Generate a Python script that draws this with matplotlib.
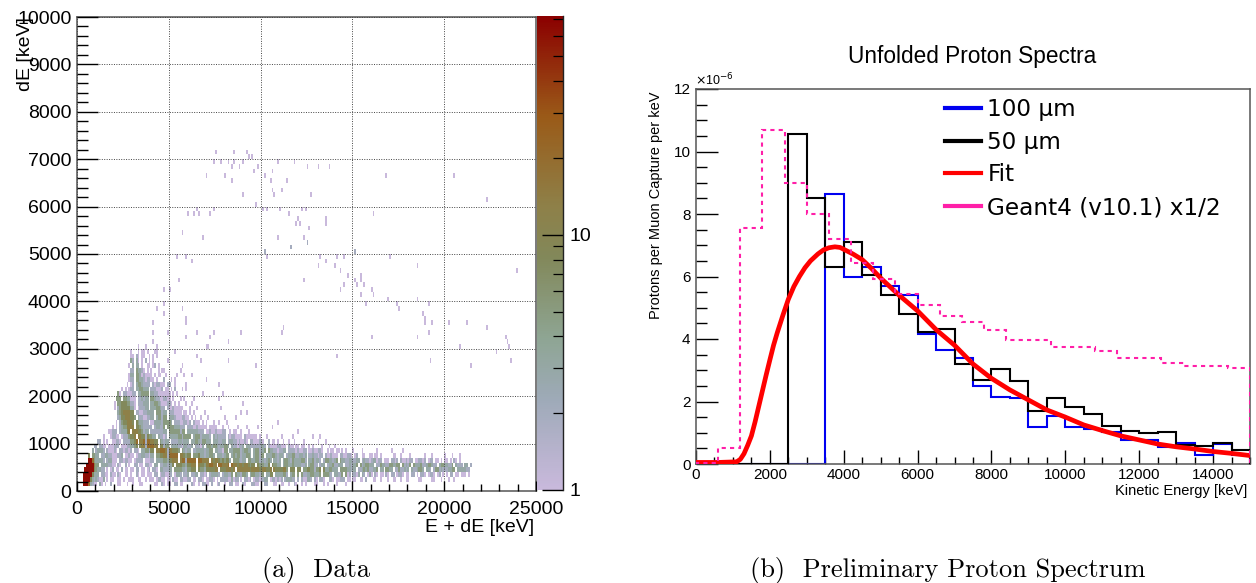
import numpy as np
import matplotlib
matplotlib.use('Agg')
import matplotlib.pyplot as plt
from matplotlib.colors import LinearSegmentedColormap, LogNorm
from matplotlib.lines import Line2D
from matplotlib.ticker import MultipleLocator, LogLocator, NullFormatter

plt.rcParams['font.family'] = ['Liberation Sans', 'DejaVu Sans']

# left panel: dense part of the histogram, read row by row
# (row low edge in keV, first x in keV, one character per 100 keV bin, blanks are only for reading)
dense_rows = [
    (100, 0, "...9997321 1.31.1..2. ..11...1.. 1...11.... ..11..21.1 1..22.11.. ..21..1.22 11.2..12.. 1..22.11.. 21...2211. 1.22...11. .11..1..21 ..1.1....1 1...1.1... .1....1..."),
    (200, 0, "...9999532 32113.1.11 ..11.1..11 1..11..1.1 11.12211.1 1.211.2211 22.11.221. 11221.1.22 22113122.1 .2212.1221 2233.12212 12.233322. 2.211332.2 1.221..221 .11222.11. 11..11.2.. .11..1...1 ..11..1..1 1.....11.. ...11...1. ..1..1...."),
    (300, 0, "...9999953 33.2211.21 1.21..11.1 ..21.11.11 1.22.12211 22.1332.22 3.2233.221 2.233332.2 33224.4332 443.344332 44.3355.33 33442.344. 4.42233443 334.44432. 33224.412. 2213.32.13 1.21.11.21 .22.1221.1 1.22.1.221 .1221.12.1 .1.22.11.1 11.1......"),
    (400, 0, "....999995 43322.1.12 .11.2.11.1 1.22.11.12 .221.33222 33.4444332 44555.5443 5555566.55 566656.666 6666566665 566556.655 55664.555. 55.4455442 445.533443 33.4444332 33.2234342 2334.33.44 33.2242232 3.3223443. 332.244232 223344.333 3322......"),
    (500, 0, ".....99996 44.3333221 1.21..2.1. .22.11.221 1.33.22332 335.555443 55666.6554 667766.776 667.766566 5665455.54 44335.5443 3.34433433 33223.3442 2.233.2334 22333.2232 334.423443 33.2243322 443344.423 24.4333422 344322.344 33224.3222 .33.2....."),
    (600, 0, "......9974 33332.2331 11.2212211 .12222.111 22.3333443 55666.6772 77777.7766 66.6566545 4553.44432 33.4433442 332343.332 3.34432433 33442.3342 332.244332 34.4332233 2233.23221 233122.111 .2212.2112 122.112212 .122.11.1. 11.1.21.1."),
    (700, 0, "......5.44 33.2233221 11223.1121 1.12233221 33.4455662 77777.6654 55.4445332 33443.3332 344.343442 33443.3442 44.3334432 332.233442 23323.2232 2122.21121 11.2211221 .12..11..1 1.11.1.... ..11..1... .1.......1 ...1...... 1...1...1."),
    (800, 0, "........3. 23332.2111 21.2212212 .221.33442 55.6677762 665554.432 33.2233332 3344.33221 44.3344442 34433.3442 334.433221 2233.22221 21122.1121 1221..1.11 .11.1.1... 1....1.... ...1...... .1.....1.."),
    (900, 800, ".22.2211.1 11222.1112 23345.5662 777766.552 44.3333221 33223.3221 3.34434432 33443.3221 223.332222 22332.2111 122111.211 .11.11..1. 1....1...1 ..1......."),
    (1000, 800, "...22.1.1. .11221.222 24457.6672 776655.432 33.2222332 333.334432 44333.3332 233.233221 21121.2211 1221..2.11 .1..1..1.. 1....1.... ...1...1.."),
    (1100, 800, "......1... 12211.1222 4556.66552 54433.3221 2.33333442 4444.34442 33332.3232 222.212211 11.2111111 .1...1.... ...1.....1 .......... 1...1....."),
    (1200, 1700, "11222.2333 56.6665542 33.2222222 33.4444442 44.3333332 22.1121121 1122..1.11 ..1...1... .......... .......... ...1......"),
    (1300, 1700, "..1.1.2344 6666.55432 2222.23322 4.44443332 22.2221121 1111.1111. ..1..1.... 1....1.... .1.......1"),
    (1400, 1700, "....1.2455 6665.54332 22.1133332 44443.2221 12212.2111 .1.1...1.. 1...1..... .......... .......... ..1......."),
    (1500, 1700, ".....23556 66554.3221 12233.3442 44.3332111 2211.1.1.. 1...1..... ...1.....1"),
    (1600, 1700, ".....34566 6655.22112 23333.4442 33.2221111 .11.1.1... ..1....... .......... ..1..1...."),
    (1700, 1700, "...1.24555 55331.1222 33.3334432 2.21121111 1...1...1. .......... .1........"),
    (1800, 1700, "...1.44555 44221.2223 33.3344321 11221.1.1. ..1..1.... .......... .......... ...1......"),
    (1900, 1700, "....444.44 33111.2232 33.4432211 2211.1...1 .1....1... .......... 1........."),
    (2000, 1700, ".....41.22 11122.3344 44.3322111 1111.1.1.. .......... .1........ ..1......."),
    (2100, 1700, ".......1.1 .122.33443 33.2221112 .11.1.2... 1.1......."),
    (2200, 2700, "1.12.34432 222.212211 1.22..1... ..1....... .......... 1........."),
    (2300, 2700, ".122.44332 12211.1... 2...1.1... .......... ...1......"),
    (2400, 2700, ".133.44312 1111.1.11. .1.....1.. .1...1...."),
    (2500, 2700, "..22.43321 .1.1...1.1 1........1"),
    (2600, 2700, ".1.3.33.1. .11.12.1.. .......... 1........."),
    (2700, 2700, "..32.21.1. 1.1.1..... ..1......."),
    (2800, 2700, "..1..21.1. ..1.1.1..."),
    (2900, 2700, "..1...1.1. .1...1...."),
]
# counts meant by the characters in dense_rows
count_codes = {'1': 1, '2': 2, '3': 3, '4': 5, '5': 8, '6': 13, '7': 20, '8': 32, '9': 65}

# left panel: lone cells above the bands
lone_x = [5481, 5971, 6280, 10255, 10380, 11670, 12560, 13250, 14100, 14556, 15155, 17060, 13140, 13540, 14030, 14340,
          14756, 15460, 15460, 18530, 23920, 5590, 12380, 15137, 14556, 15246, 15645, 14357, 16008, 15460, 16117, 4790,
          5082, 16934, 18550, 4790, 15736, 17424, 19110, 4300, 5700, 17550, 4790, 18858, 5970, 5970, 4100, 18950, 18950,
          19350, 20240, 21220, 11270, 22320, 4190, 4900, 6590, 7405, 8985, 11180, 19110, 5970, 7260, 16060, 18550, 23300,
          4190, 8276, 23410, 3320, 3740, 4300, 7000, 7170, 20800, 23520, 4300, 5390, 22815, 3630, 3085, 3630, 6590, 14157,
          2900, 3210, 3740, 6770, 8276, 19240, 23630, 9750, 21435,
          7570, 8585, 9257, 9366, 9584, 7406, 7896, 8277, 8585, 9094, 10963, 11870, 8477, 8876, 9892, 12578, 13159, 13776,
          7006, 8059, 9693, 10690, 10273, 10510, 8477, 11453, 16844, 20528, 10690, 11180, 10780, 9094, 12740, 22325, 9747,
          6590, 7406, 10165, 10382, 11054, 12252, 12470, 6080, 6353, 6680, 7297, 11562, 16136, 12016, 13559, 11980, 12160,
          13559, 12615, 5790, 6880, 10963, 12325, 12578, 11689, 10273, 15156]
lone_y = [4965, 4965, 4860, 5071, 4965, 5170, 5260, 4965, 4965, 4965, 5071, 4965, 4760, 4860, 4760, 4660,
          4570, 4570, 4465, 4760, 4660, 4465, 4465, 4465, 4360, 4360, 4360, 4260, 4260, 4170, 4170, 4260,
          4260, 4065, 4065, 3965, 3965, 3965, 3965, 3860, 3860, 3860, 3765, 3765, 3665, 3565, 3565, 3665, 3565,
          3565, 3565, 3565, 3465, 3465, 3370, 3370, 3370, 3370, 3370, 3370, 3370, 3265, 3265, 3265, 3265, 3265,
          3165, 3165, 3165, 3065, 3065, 3065, 3065, 3065, 3065, 3065, 2965, 2965, 2965, 2965, 2860, 2860, 2860, 2860,
          2765, 2765, 2765, 2765, 2765, 2765, 2765, 2665, 2665,
          7180, 7180, 7180, 7080, 7080, 6983, 6983, 6983, 6983, 6983, 6983, 6983, 6878, 6878, 6878, 6878, 6878, 6878,
          6681, 6681, 6780, 6780, 6681, 6576, 6576, 6576, 6681, 6681, 6365, 6365, 6273, 6273, 6273, 6175, 6070,
          5971, 5971, 5971, 5971, 5971, 5971, 5971, 5872, 5872, 5872, 5872, 5872, 5872, 5774, 5774, 5669, 5669,
          5669, 5570, 5472, 5366, 5366, 5366, 5268, 5170, 5070, 5070]

# right panel: spectra, in units of 1e-6
edges_500 = np.arange(0, 15001, 500)
values_100um = [0, 0, 0, 0, 0, 0, 0, 8.65, 5.97, 6.3, 5.7, 5.4, 4.17, 3.65, 3.38, 2.5, 2.15, 2.1, 1.19, 1.55, 1.19, 1.12,
                1.03, 0.77, 0.77, 0.55, 0.68, 0.3, 0.64, 0.3]
values_50um = [0, 0, 0, 0, 0, 10.55, 8.5, 6.3, 7.1, 6.05, 5.4, 4.8, 4.22, 4.32, 3.19, 2.69, 3.04, 2.66, 1.7, 2.12, 1.83,
               1.6, 1.23, 1.07, 0.99, 1.03, 0.6, 0.57, 0.68, 0.45]
edges_600 = np.arange(0, 15001, 600)
values_geant = [0.02, 0.5, 7.55, 10.7, 9.0, 8.0, 7.2, 6.43, 5.92, 5.45, 5.08, 4.75, 4.53, 4.29, 3.97, 3.97, 3.75, 3.75,
                3.63, 3.4, 3.4, 3.24, 3.14, 3.14, 3.06]
fit_x = [0, 600, 1100, 1200, 1300, 1400, 1500, 1600, 1700, 1800, 1900, 2000, 2100, 2200, 2350, 2500, 2650, 2800, 2950,
         3100, 3300, 3450, 3600, 3760, 3900, 4000, 4250, 4500, 4750, 5000, 5500, 6000, 6500, 7000, 7500, 8000, 8500,
         9000, 9500, 10000, 10500, 11000, 11500, 12000, 12500, 13000, 13500, 14000, 14500, 15000]
fit_y = [0.05, 0.05, 0.07, 0.15, 0.33, 0.6, 0.9, 1.35, 1.85, 2.35, 2.85, 3.33, 3.8, 4.2, 4.75, 5.27, 5.68, 6.0, 6.28,
         6.5, 6.72, 6.85, 6.92, 6.95, 6.93, 6.87, 6.72, 6.54, 6.26, 5.95, 5.4, 4.9, 4.3, 3.8, 3.2, 2.74, 2.37,
         2.05, 1.73, 1.5, 1.25, 1.07, 0.9, 0.77, 0.64, 0.55, 0.48, 0.4, 0.34, 0.27]

W, H = 1256, 583


def axes_px(fig, left, top, right, bottom):
    return fig.add_axes([left / W, 1 - bottom / H, (right - left) / W, (bottom - top) / H])


fig = plt.figure(figsize=(W / 100, H / 100), dpi=100)

# ---- (a) data ----
ax = axes_px(fig, 77, 17, 536, 491)
x_bins = np.arange(0, 25001, 100)
y_bins = np.arange(0, 10001, 100)
counts = np.zeros((100, 250))
for y_low, x_start, text in dense_rows:
    text = text.replace(' ', '')
    for i, ch in enumerate(text):
        if ch != '.':
            counts[y_low // 100, x_start // 100 + i] = count_codes[ch]
for x, y in zip(lone_x, lone_y):
    counts[y // 100, x // 100] += 1

cmap = LinearSegmentedColormap.from_list('bands', [
    (0.0, '#c9b9dc'), (0.19, '#9eaab8'), (0.32, '#8ea593'), (0.49, '#82885a'),
    (0.60, '#8e8048'), (0.79, '#9a5a18'), (1.0, '#8b0000')])
norm = LogNorm(vmin=1, vmax=72)
mesh = ax.pcolormesh(x_bins, y_bins, np.ma.masked_equal(counts, 0), cmap=cmap, norm=norm, linewidth=0)
ax.set_xlim(0, 25000)
ax.set_ylim(0, 10000)
ax.xaxis.set_major_locator(MultipleLocator(5000))
ax.xaxis.set_minor_locator(MultipleLocator(1000))
ax.yaxis.set_major_locator(MultipleLocator(1000))
ax.yaxis.set_minor_locator(MultipleLocator(200))
ax.tick_params(axis='x', which='major', direction='in', length=7, width=1, labelsize=14, pad=7)
ax.tick_params(axis='x', which='minor', direction='in', length=5, width=1)
ax.tick_params(axis='y', which='major', direction='in', length=15, width=1, labelsize=14, pad=4)
ax.tick_params(axis='y', which='minor', direction='in', length=8, width=1)
ax.grid(True, which='major', color='#444444', linestyle=(0, (1, 1.5)), linewidth=0.7)
ax.set_axisbelow(False)
for s in ax.spines.values():
    s.set_color('#555555')
    s.set_linewidth(1.1)
fig.text(534 / W, 1 - 527 / H, 'E + dE [keV]', ha='right', va='center', fontsize=14)
fig.text(25 / W, 1 - 17 / H, 'dE [keV]', rotation=90, ha='center', va='top', fontsize=14)

cax = axes_px(fig, 537, 16, 563, 490)
cb = fig.colorbar(mesh, cax=cax)
cb.outline.set_visible(False)
cax.plot([1, 1], [0, 1], transform=cax.transAxes, color='#222222', linewidth=1, clip_on=False)
cax.yaxis.set_major_locator(LogLocator(base=10, numticks=3))
cax.yaxis.set_minor_locator(LogLocator(base=10, subs=np.arange(2, 10), numticks=4))
cax.yaxis.set_minor_formatter(NullFormatter())
cax.set_yticks([1, 10], labels=['1', '10'])
cax.tick_params(axis='y', which='major', direction='in', length=15, width=1, labelsize=14, pad=5)
cax.tick_params(axis='y', which='minor', direction='in', length=7, width=0.9)

# ---- (b) spectrum ----
bx = axes_px(fig, 696, 89, 1250, 464)
bx.stairs(values_100um, edges_500, color='#0000f0', linewidth=1.5, zorder=2)
bx.stairs(values_50um, edges_500, color='black', linewidth=1.5, zorder=3)
bx.plot(fit_x, fit_y, color='#ff0000', linewidth=3.4, zorder=4)
bx.stairs(values_geant, edges_600, color='#ff1fa8', linewidth=1.5, linestyle=(0, (2, 2)), zorder=5)
bx.set_xlim(0, 15000)
bx.set_ylim(0, 12)
bx.xaxis.set_major_locator(MultipleLocator(2000))
bx.xaxis.set_minor_locator(MultipleLocator(500))
bx.yaxis.set_major_locator(MultipleLocator(2))
bx.yaxis.set_minor_locator(MultipleLocator(0.5))
bx.tick_params(axis='x', which='major', direction='in', length=10, width=1, labelsize=11, pad=3)
bx.tick_params(axis='x', which='minor', direction='in', length=5, width=1)
bx.tick_params(axis='y', which='major', direction='in', length=16, width=1, labelsize=11, pad=4)
bx.tick_params(axis='y', which='minor', direction='in', length=8, width=1)
for s in bx.spines.values():
    s.set_color('#555555')
    s.set_linewidth(1.1)
fig.text(972 / W, 1 - 57 / H, 'Unfolded Proton Spectra', ha='center', va='center', fontsize=16.3)
fig.text(656 / W, 1 - 205 / H, 'Protons per Muon Capture per keV', rotation=90, ha='center', va='center', fontsize=10.5)
fig.text(1247 / W, 1 - 491 / H, 'Kinetic Energy [keV]', ha='right', va='center', fontsize=10.5)
fig.text(695 / W, 1 - 80 / H, r'$\times$10$^{-6}$', ha='left', va='center', fontsize=9)

handles = [Line2D([], [], color='#0000f0', linewidth=3), Line2D([], [], color='black', linewidth=3),
           Line2D([], [], color='#ff0000', linewidth=3), Line2D([], [], color='#ff1fa8', linewidth=3)]
labels = ['100 µm', '50 µm', 'Fit', 'Geant4 (v10.1) x1/2']
bx.legend(handles, labels, frameon=False, loc='upper left', bbox_to_anchor=((945 - 696) / 554, 1 - (98 - 89) / 375),
          borderaxespad=0, borderpad=0, handlelength=36 / 23.2, handletextpad=0.28, labelspacing=0.42,
          prop={'family': 'DejaVu Sans', 'size': 16.7})

# captions
fig.text(316 / W, 1 - 570 / H, '(a)  Data', ha='center', va='center', fontsize=19, family='cmr10')
fig.text(948 / W, 1 - 570 / H, '(b)  Preliminary Proton Spectrum', ha='center', va='center', fontsize=19, family='cmr10')

fig.savefig('out.png', dpi=100)
